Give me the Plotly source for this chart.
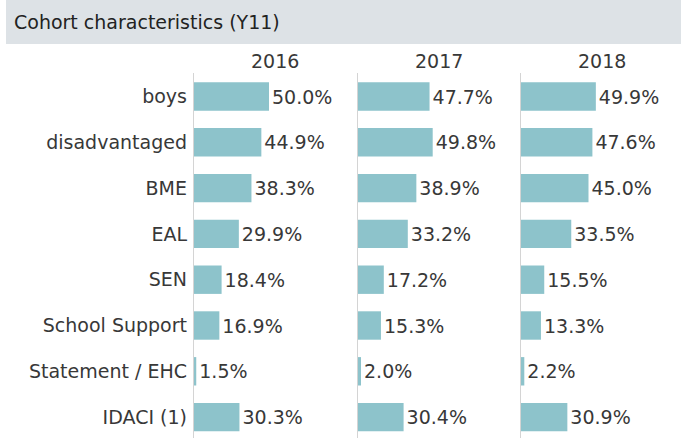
import plotly.graph_objects as go

categories = ["boys", "disadvantaged", "BME", "EAL", "SEN", "School Support", "Statement / EHC", "IDACI (1)"]
years = ["2016", "2017", "2018"]
values_2016 = [50.0, 44.9, 38.3, 29.9, 18.4, 16.9, 1.5, 30.3]
values_2017 = [47.7, 49.8, 38.9, 33.2, 17.2, 15.3, 2.0, 30.4]
values_2018 = [49.9, 47.6, 45.0, 33.5, 15.5, 13.3, 2.2, 30.9]
series = [values_2016, values_2017, values_2018]
title = "Cohort characteristics (Y11)"

W, H = 681, 438
L, T = 193, 73
PW, PH = W - L, H - T
FONT = "DejaVu Sans, sans-serif"
TXT = "#383838"
BAR = "#8DC3CB"
ROW = 45.8

def px_x(p):
    return (p - L) / PW

def px_y(p):
    return 1 - (p - T) / PH

panel_starts = [0, 164, 327]
fig = go.Figure()
for i, (yr, vals) in enumerate(zip(years, series)):
    xa = "x" if i == 0 else f"x{i+1}"
    fig.add_trace(go.Bar(
        x=vals, y=categories, orientation="h", xaxis=xa, yaxis="y",
        marker=dict(color=BAR, line=dict(width=0)), width=28.4 / ROW,
        text=[f"{v:.1f}%" for v in vals], textposition="outside",
        textfont=dict(family=FONT, size=19, color=TXT), cliponaxis=False,
        hoverinfo="skip", showlegend=False,
    ))
    s = panel_starts[i] + 1
    e = panel_starts[i + 1] if i + 1 < len(panel_starts) else PW
    d0, d1 = s / PW, e / PW
    rng = (e - s) / 1.5
    key = "xaxis" if i == 0 else f"xaxis{i+1}"
    fig.layout[key] = dict(domain=[d0, d1], range=[0, rng], visible=False, fixedrange=True)
    fig.add_annotation(text=yr, x=(panel_starts[i] + 82) / PW, y=px_y(61), xref="paper", yref="paper",
                       showarrow=False, font=dict(family=FONT, size=19, color=TXT),
                       xanchor="center", yanchor="middle")
    xl = (panel_starts[i] + 0.5) / PW
    fig.add_shape(type="line", xref="paper", yref="paper", x0=xl, x1=xl,
                  y0=0, y1=1, line=dict(color="#D4D4D4", width=1), layer="below")

top = -(96.5 - T) / ROW
bottom = top + PH / ROW
fig.update_layout(
    yaxis=dict(range=[bottom, top], showgrid=False, zeroline=False, showline=False, ticks="",
               tickfont=dict(family=FONT, size=19, color=TXT), ticklabelstandoff=6, fixedrange=True),
    width=W, height=H, margin=dict(l=L, r=0, t=T, b=0, autoexpand=False),
    plot_bgcolor="white", paper_bgcolor="white",
)
fig.add_shape(type="rect", xref="paper", yref="paper", x0=px_x(6), x1=px_x(681), y0=px_y(44), y1=px_y(0),
              fillcolor="#DDE2E6", line=dict(width=0), layer="below")
fig.add_annotation(text=title, x=px_x(12), y=px_y(22), xref="paper", yref="paper", showarrow=False,
                   xanchor="left", yanchor="middle", font=dict(family=FONT, size=19, color="#222222"))

fig.write_html("out.html", config={"displayModeBar": False},
               post_script="document.body.style.margin='0';")
